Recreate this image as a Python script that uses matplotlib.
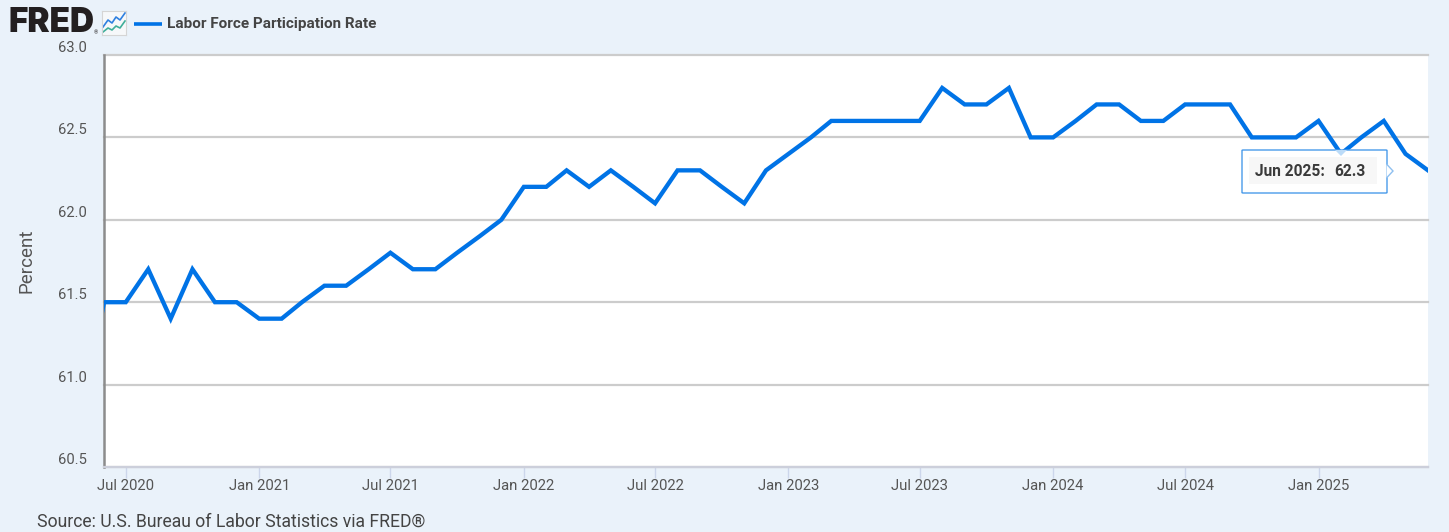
import matplotlib
matplotlib.use("Agg")
import matplotlib.pyplot as plt
from matplotlib.patches import FancyBboxPatch, Polygon, Rectangle
from matplotlib.lines import Line2D
import pandas as pd

plt.rcParams['font.family'] = ['Roboto', 'DejaVu Sans']

W, H = 1449, 532
BG = '#EAF2FA'
TXT = '#555555'
LINE = '#0073E6'

start_month = '2020-05-01'
values = [60.8, 61.5, 61.5, 61.7, 61.4, 61.7, 61.5, 61.5,
          61.4, 61.4, 61.5, 61.6, 61.6, 61.7, 61.8, 61.7, 61.7, 61.8, 61.9, 62.0,
          62.2, 62.2, 62.3, 62.2, 62.3, 62.2, 62.1, 62.3, 62.3, 62.2, 62.1, 62.3,
          62.4, 62.5, 62.6, 62.6, 62.6, 62.6, 62.6, 62.8, 62.7, 62.7, 62.8, 62.5,
          62.5, 62.6, 62.7, 62.7, 62.6, 62.6, 62.7, 62.7, 62.7, 62.5, 62.5, 62.5,
          62.6, 62.4, 62.5, 62.6, 62.4, 62.3]
yticks = [60.5, 61.0, 61.5, 62.0, 62.5, 63.0]
xtick_dates = ['2020-07-01', '2021-01-01', '2021-07-01', '2022-01-01', '2022-07-01', '2023-01-01',
               '2023-07-01', '2024-01-01', '2024-07-01', '2025-01-01']
xtick_labels = ['Jul 2020', 'Jan 2021', 'Jul 2021', 'Jan 2022', 'Jul 2022', 'Jan 2023',
                'Jul 2023', 'Jan 2024', 'Jul 2024', 'Jan 2025']
series_name = 'Labor Force Participation Rate'
ylabel = 'Percent'
source = 'Source: U.S. Bureau of Labor Statistics via FRED®'
tooltip_date = 'Jun 2025:'
tooltip_value = '62.3'

dates = pd.date_range(start_month, periods=len(values), freq='MS')

fig = plt.figure(figsize=(W / 100, H / 100), dpi=100, facecolor=BG)


def px(x, y):
    return x / W, 1 - y / H


L, R, T, B = 104, 1428, 55, 467
ax = fig.add_axes([L / W, 1 - B / H, (R - L) / W, (B - T) / H], facecolor='white')
ax.plot(dates, values, color=LINE, lw=3.1, solid_joinstyle='miter', zorder=3)
ax.set_ylim(60.5, 63.0)
ax.set_xlim(pd.Timestamp('2020-06-01'), pd.Timestamp('2025-06-01'))
ax.set_yticks(yticks)
ax.set_yticklabels([])
ax.tick_params(axis='y', length=0)
# value labels sit just above their gridlines, as on the FRED graph
for v in yticks:
    ax.annotate(f'{v:.1f}', xy=(0, v), xycoords=ax.get_yaxis_transform(),
                xytext=(-12.5, 5), textcoords='offset points',
                ha='right', va='center', fontsize=10.6, color=TXT, annotation_clip=False)
ax.set_xticks(pd.to_datetime(xtick_dates))
ax.set_xticklabels(xtick_labels, fontsize=10.7, color=TXT)
ax.tick_params(axis='x', length=8, width=1, color='#CCD6EB', pad=0.8)
ax.grid(axis='y', color='#CCCCCC', lw=1.6, zorder=1)
for g in ax.get_ygridlines():
    g.set_clip_on(False)
ax.set_axisbelow(True)
for s in ['top', 'right']:
    ax.spines[s].set_visible(False)
ax.spines['left'].set_color('#8C8C8C')
ax.spines['left'].set_linewidth(1.8)
ax.spines['bottom'].set_color('#CCCFDB')
ax.spines['bottom'].set_linewidth(1.6)
ax.set_ylabel(ylabel, fontsize=13.5, color=TXT)
ax.yaxis.set_label_coords((36 - L) / (R - L), (B - 261) / (B - T))

# header
fig.text(*px(9, 23.5), 'FRED', fontsize=24, fontweight='black', family=['Inter', 'DejaVu Sans'],
         color='#231F20', va='center', ha='left')
fig.text(*px(93.5, 33), '®', fontsize=4, color='#231F20', va='center', ha='left')

# small chart icon in the header
icon = fig.add_axes([102 / W, 1 - 35 / H, 24 / W, 24 / H], facecolor='#F6F8FA')
icon.set_xlim(0, 24); icon.set_ylim(24, 0); icon.set_xticks([]); icon.set_yticks([])
for s in icon.spines.values():
    s.set_color('#D5D5D5'); s.set_linewidth(0.8)
icon.plot([1, 6, 10, 14, 18, 23], [16, 9, 12, 6, 9, 2], color='#2F80E0', lw=1.2)
icon.plot([1, 6, 10, 14, 18, 23], [21, 17, 19, 15, 17, 10], color='#3FAE9A', lw=1.2)

fig.add_artist(Line2D([134 / W, 162 / W], [1 - 24 / H] * 2, color=LINE, lw=2.6, solid_capstyle='butt'))
fig.text(*px(167, 24), series_name, fontsize=11, fontweight='bold', color='#444444', va='center', ha='left')

fig.text(*px(37, 522), source, fontsize=12.7, color='#444444', va='center', ha='left')

# tooltip
trans = fig.transFigure
box = FancyBboxPatch(px(1242, 193), 145 / W, 43 / H, boxstyle='round,pad=0,rounding_size=0.0008',
                     transform=trans, fc='white', ec='#4A9BEA', lw=1.0, zorder=6)
fig.add_artist(box)
fig.add_artist(Polygon([px(1386.5, 164), px(1393, 171), px(1386.5, 178)], closed=False, transform=trans,
                       fc='white', ec='#8FC0F0', lw=1.0, zorder=7))
fig.add_artist(Polygon([px(1335, 150), px(1341, 156), px(1347, 150)], closed=True, transform=trans,
                       fc='#BBDBF8', ec='none', zorder=7))
fig.add_artist(Rectangle(px(1249, 184), 128 / W, 27 / H, transform=trans,
                         fc='#F7F7F7', ec='none', zorder=7))
fig.text(*px(1255, 172), tooltip_date, fontsize=11.2, fontweight='bold', color='#3A3A3A', va='center', ha='left', zorder=8)
fig.text(*px(1334, 172), tooltip_value, fontsize=11.2, fontweight='bold', color='#3A3A3A', va='center', ha='left', zorder=8)

fig.savefig('out.png', dpi=100, facecolor=BG)
